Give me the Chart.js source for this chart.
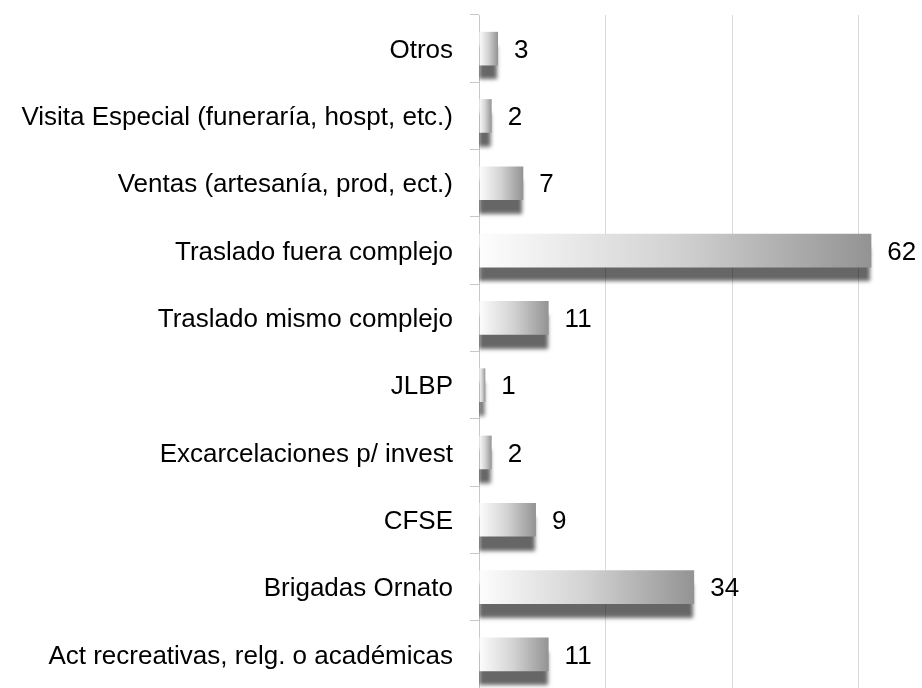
<!DOCTYPE html>
<html>
<head>
<meta charset="utf-8">
<script src="https://cdn.jsdelivr.net/npm/chart.js@4/dist/chart.umd.min.js"></script>
<style>
  html, body { margin: 0; padding: 0; background: #ffffff; }
  #wrap { width: 922px; height: 688px; position: relative; }
</style>
</head>
<body>
<div id="wrap"><canvas id="chart" width="922" height="688"></canvas></div>
<script>
// Categories listed top to bottom, with their counts
const categories = [
  'Otros',
  'Visita Especial (funeraría, hospt, etc.)',
  'Ventas (artesanía, prod, ect.)',
  'Traslado fuera complejo',
  'Traslado mismo complejo',
  'JLBP',
  'Excarcelaciones p/ invest',
  'CFSE',
  'Brigadas Ornato',
  'Act recreativas, relg. o académicas'
];
const counts = [3, 2, 7, 62, 11, 1, 2, 9, 34, 11];
const axisMax = 70;
const axisStep = 20;

const FONT = '"Liberation Sans", Arial, sans-serif';

// Per-bar horizontal gradient, light at the base and grey at the tip
function barGradient(ctx) {
  const chart = ctx.chart;
  const xs = chart.scales.x;
  if (!xs || ctx.type !== 'data') return '#cccccc';
  const x0 = xs.getPixelForValue(0);
  const x1 = xs.getPixelForValue(ctx.raw);
  if (!isFinite(x0) || !isFinite(x1) || x1 === x0) return '#cccccc';
  const g = chart.ctx.createLinearGradient(x0, 0, x1, 0);
  g.addColorStop(0, '#fdfdfd');
  g.addColorStop(0.5, '#d2d2d2');
  g.addColorStop(1, '#939393');
  return g;
}

// Soft drop shadow under the bars
const barShadow = {
  id: 'barShadow',
  beforeDatasetDraw(chart) {
    const c = chart.ctx;
    c.save();
    c.shadowColor = 'rgba(0,0,0,0.6)';
    c.shadowOffsetX = -1;
    c.shadowOffsetY = 14;
    c.shadowBlur = 4;
  },
  afterDatasetDraw(chart) {
    chart.ctx.restore();
  }
};

// Count written just past the end of each bar
const valueLabels = {
  id: 'valueLabels',
  afterDatasetsDraw(chart) {
    const c = chart.ctx;
    const meta = chart.getDatasetMeta(0);
    const data = chart.data.datasets[0].data;
    c.save();
    c.font = '26px ' + FONT;
    c.fillStyle = '#000000';
    c.textAlign = 'left';
    c.textBaseline = 'middle';
    meta.data.forEach((bar, i) => {
      c.fillText(String(data[i]), bar.x + 16, bar.y + 2);
    });
    c.restore();
  }
};

new Chart(document.getElementById('chart'), {
  type: 'bar',
  data: {
    labels: categories,
    datasets: [{
      data: counts,
      backgroundColor: barGradient,
      borderWidth: 0,
      categoryPercentage: 1.0,
      barPercentage: 0.5
    }]
  },
  plugins: [barShadow, valueLabels],
  options: {
    indexAxis: 'y',
    responsive: false,
    animation: false,
    layout: { padding: { top: 15, bottom: -2, left: 0, right: -2 } },
    plugins: {
      legend: { display: false },
      tooltip: { enabled: false }
    },
    scales: {
      x: {
        min: 0,
        max: axisMax,
        ticks: { display: false, stepSize: axisStep },
        grid: {
          color: (ctx) => (ctx.tick && ctx.tick.value === 0) ? 'rgba(0,0,0,0)' : '#d9d9d9',
          lineWidth: 1,
          drawTicks: false
        },
        border: { display: false }
      },
      y: {
        afterFit(scale) {
          scale.width = 479;
          scale.paddingTop = 0;
          scale.paddingBottom = 0;
        },
        ticks: {
          color: '#000000',
          font: { family: FONT, size: 26 },
          padding: 17,
          labelOffset: 2
        },
        grid: {
          drawOnChartArea: false,
          drawTicks: true,
          tickLength: 9,
          color: '#c8c8c8'
        },
        border: { display: true, color: '#c8c8c8', width: 1 }
      }
    }
  }
});
</script>
</body>
</html>
